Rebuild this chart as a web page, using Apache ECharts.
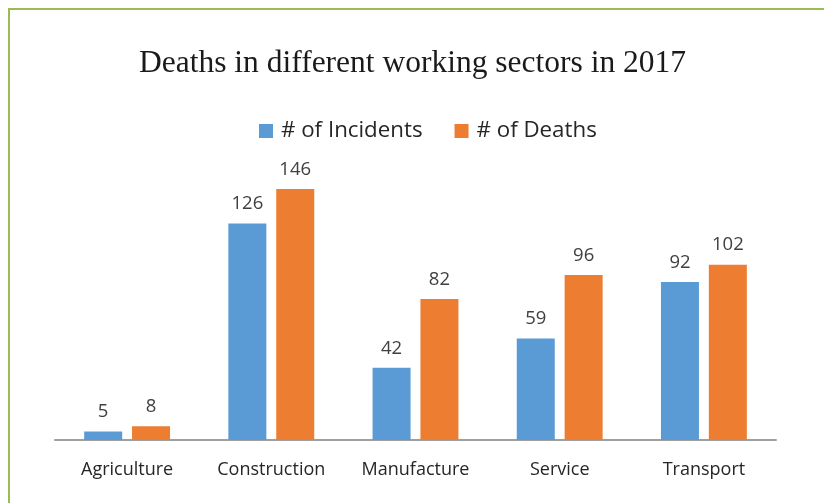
<!DOCTYPE html>
<html><head><meta charset="utf-8">
<script src="https://cdn.jsdelivr.net/npm/echarts@6/dist/echarts.min.js"></script>
<style>html,body{margin:0;padding:0;background:#fff}#c{width:824px;height:503px}</style>
</head><body><div id="c"></div>
<script>
const categories = ['Agriculture','Construction','Manufacture','Service','Transport'];
const incidents = [5,126,42,59,92];
const deaths = [8,146,82,96,102];
const chart = echarts.init(document.getElementById('c'));
const labelStyle = {show:true, position:'top', distance:10, color:'#404040', fontSize:18.5, fontFamily:'Open Sans'};
chart.setOption({
  animation:false,
  backgroundColor:'#fff',
  graphic:[{type:'rect', shape:{x:9,y:9,width:830,height:510}, style:{fill:'none', stroke:'#9bbb59', lineWidth:2}}],
  title:{text:'Deaths in different working sectors in 2017', left:134, top:43,
    textStyle:{fontFamily:'Liberation Serif', fontSize:31.5, fontWeight:'normal', color:'#1a1a1a'}},
  legend:{top:115, left:254, itemWidth:14, itemHeight:14, itemGap:32, icon:'rect',
    textStyle:{fontFamily:'Open Sans', fontSize:22.3, color:'#262626', padding:[0,0,0,3]}},
  grid:{left:55, right:48, top:165, bottom:63},
  xAxis:{type:'category', data:categories, axisTick:{show:false},
    axisLine:{lineStyle:{color:'#a0a0a0', width:2}},
    axisLabel:{interval:0, color:'#262626', fontSize:18, fontFamily:'Open Sans', margin:21}},
  yAxis:{type:'value', min:0, max:160, show:false, splitLine:{show:false}},
  series:[
    {name:'# of Incidents', type:'bar', data:incidents, barWidth:38, barGap:'26%', itemStyle:{color:'#5b9bd5'}, label:labelStyle},
    {name:'# of Deaths', type:'bar', data:deaths, barWidth:38, itemStyle:{color:'#ed7d31'}, label:labelStyle}
  ]
});
</script></body></html>
